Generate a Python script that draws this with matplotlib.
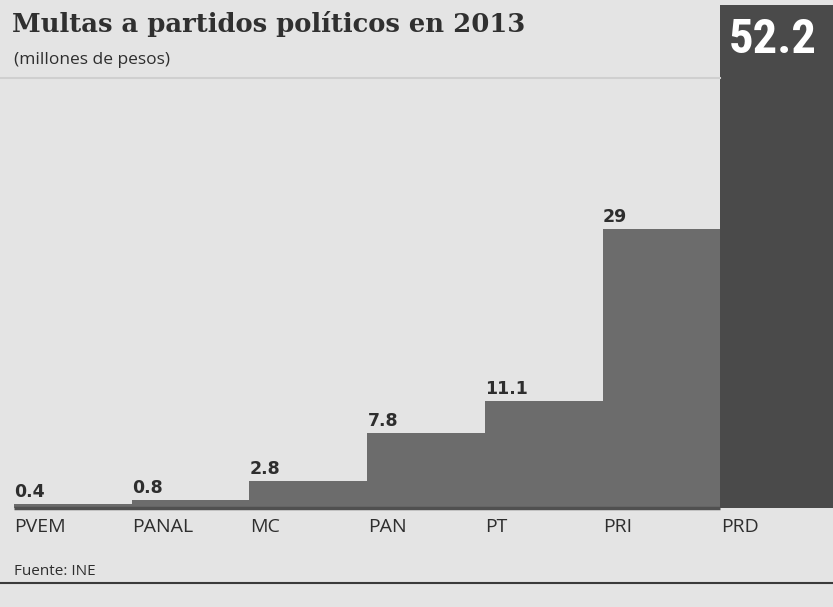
import matplotlib.pyplot as plt
from matplotlib import font_manager

partidos = ['PVEM', 'PANAL', 'MC', 'PAN', 'PT', 'PRI', 'PRD']
multas = [0.4, 0.8, 2.8, 7.8, 11.1, 29, 52.2]
etiquetas = ['0.4', '0.8', '2.8', '7.8', '11.1', '29', '52.2']

fondo = '#e4e4e4'
gris = '#6c6c6c'
gris_osc = '#4a4a4a'
texto = '#2e2e2e'


def narrow_font():
    # pick a condensed face if one is installed, else plain DejaVu
    for fam in ['Liberation Sans Narrow', 'DejaVu Sans Condensed', 'Roboto Condensed']:
        try:
            font_manager.findfont(font_manager.FontProperties(family=fam, weight='bold'),
                                  fallback_to_default=False)
            return fam, 35
        except ValueError:
            continue
    return 'DejaVu Sans', 27


fig = plt.figure(figsize=(8.33, 6.07), dpi=100, facecolor=fondo)
# one category = 117.7 px, axes starts at x=14, base at y=508
ax = fig.add_axes([14 / 833, 1 - 508 / 607, 7 * 117.7 / 833, 503 / 607])
ax.set_facecolor(fondo)

colores = [gris] * (len(partidos) - 1) + [gris_osc]
x = list(range(len(partidos)))
ax.bar(x, multas, width=1.0, align='edge', color=colores, linewidth=0)
ax.set_xlim(0, len(partidos))
ax.set_ylim(0, multas[-1])
ax.axis('off')

# baseline under the small bars
ax.plot([0, len(partidos) - 1], [0, 0], color='#505050', lw=2.5, solid_capstyle='butt', clip_on=False)

fam52, size52 = narrow_font()
for i, (v, lab) in enumerate(zip(multas, etiquetas)):
    if i == len(partidos) - 1:
        ax.text(i + 0.07, multas[-1] - 1.2, lab, color='white', fontsize=size52, fontweight='bold',
                family=fam52, va='top', ha='left')
    else:
        ax.text(i + 0.005, v + 0.3, lab, color=texto, fontsize=12.5, fontweight='bold',
                va='bottom', ha='left')
    ax.text(i + 0.005, -1.0, partidos[i], color=texto, fontsize=14, va='top', ha='left',
            family=['Open Sans', 'DejaVu Sans'])

fig.text(12 / 833, 1 - 32 / 607, 'Multas a partidos políticos en 2013', fontsize=18.6,
         fontweight='bold', family='DejaVu Serif', color='#303030', va='baseline')
fig.text(14 / 833, 1 - 64 / 607, '(millones de pesos)', fontsize=12.5, color=texto,
         family=['Open Sans', 'DejaVu Sans'], va='baseline')
fig.text(14 / 833, 1 - 575 / 607, 'Fuente: INE', fontsize=11, color=texto,
         family=['Open Sans', 'DejaVu Sans'], va='baseline')

fig.add_artist(plt.Line2D([0, 720 / 833], [1 - 78 / 607, 1 - 78 / 607], color='#cfcfcf', lw=1.5))
fig.add_artist(plt.Line2D([0, 1], [1 - 583 / 607, 1 - 583 / 607], color='#3a3a3a', lw=1.5))

fig.savefig('out.png', dpi=100, facecolor=fondo)
